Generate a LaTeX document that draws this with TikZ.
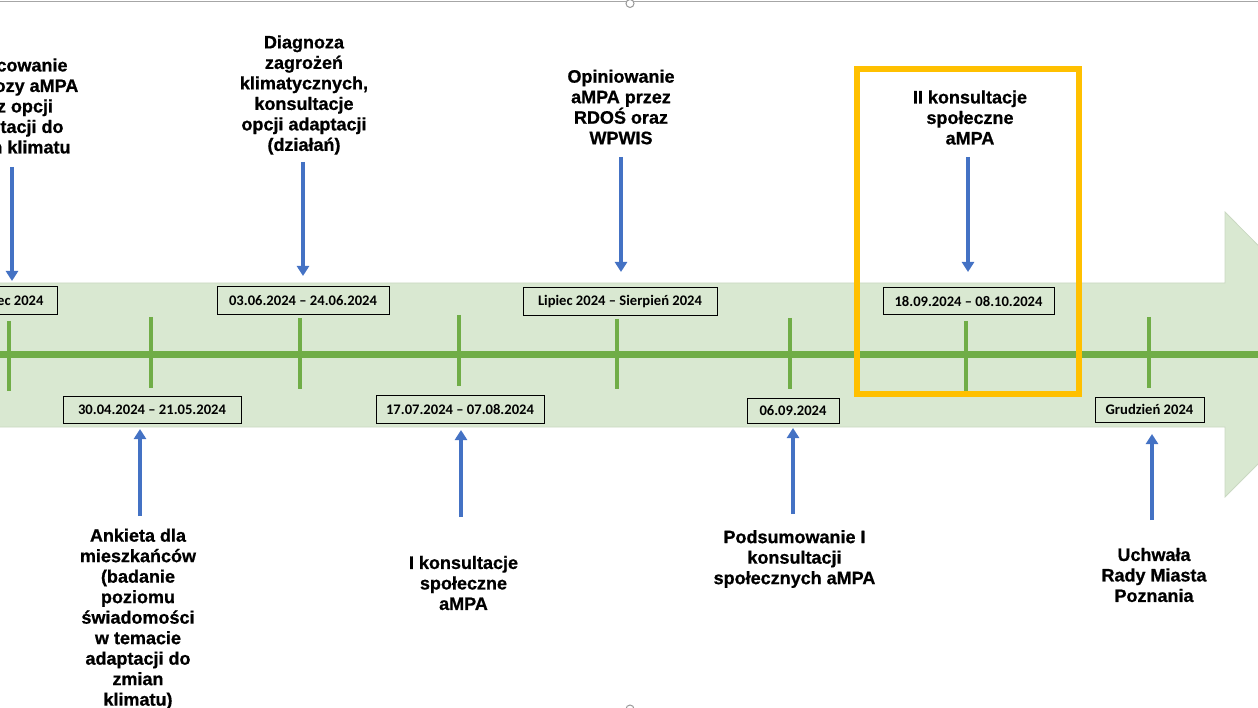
\documentclass[tikz,border=0pt]{standalone}
\usepackage{fontspec}
\setmainfont{Liberation Sans}
\newfontfamily\heavy{Liberation Sans Bold}[FakeBold=0.8]
\newfontfamily\calib{Carlito}
\usetikzlibrary{arrows.meta}
\definecolor{tlgreen}{RGB}{112,173,71}
\definecolor{arrblue}{RGB}{68,114,196}
\definecolor{hlyellow}{RGB}{255,192,0}
\definecolor{bandlight}{RGB}{230,241,224}
\definecolor{banddark}{RGB}{217,232,209}
\definecolor{bandedge}{RGB}{202,216,194}
\begin{document}
\begin{tikzpicture}[x=1pt,y=-1pt,
  datebox/.style={draw=black, line width=1pt, fill=none, inner sep=0pt,
    font=\calib\bfseries\fontsize{14.6}{16}\selectfont},
  lbl/.style={align=center, inner sep=0pt,
    font=\heavy\fontsize{18}{20.5}\selectfont},
  arr/.style={draw=arrblue, line width=3.5pt, -{Triangle[width=12pt,length=10pt]}},
  tickline/.style={draw=tlgreen, line width=4pt},
  axisline/.style={draw=tlgreen, line width=7pt},
  hlbox/.style={draw=hlyellow, line width=6pt}]
\useasboundingbox (0,0) rectangle (1258,708);
\clip (0,0) rectangle (1258,708);

% band arrow
\shade[top color=banddark, middle color=bandlight, bottom color=banddark]
  (-5,283) -- (1225,283) -- (1225,212) -- (1367,355) -- (1225,497) -- (1225,427) -- (-5,427) -- cycle;
\draw[bandedge, line width=0.8pt]
  (-5,283) -- (1225,283) -- (1225,212) -- (1367,355) -- (1225,497) -- (1225,427) -- (-5,427);

% main axis
\draw[axisline] (0,355) -- (1258,355);

% ticks
\draw[tickline] (9,321) -- (9,391);
\draw[tickline] (151,317) -- (151,388);
\draw[tickline] (300,318) -- (300,389);
\draw[tickline] (459,315) -- (459,386);
\draw[tickline] (617,319) -- (617,389);
\draw[tickline] (790,318) -- (790,389);
\draw[tickline] (966,321) -- (966,391);
\draw[tickline] (1149,317) -- (1149,388);

% highlight box
\draw[hlbox] (857,69) rectangle (1079,394);

% date boxes
\node[datebox, minimum width=104pt, minimum height=28pt] (d1) at (5,301) {Marzec 2024};
\node[datebox, minimum width=178pt, minimum height=27pt] (d2) at (152,409.5) {30.04.2024 – 21.05.2024};
\node[datebox, minimum width=172pt, minimum height=28pt] (d3) at (303,301) {03.06.2024 – 24.06.2024};
\node[datebox, minimum width=168pt, minimum height=28pt] (d4) at (460,409.5) {17.07.2024 – 07.08.2024};
\node[datebox, minimum width=194pt, minimum height=28pt] (d5) at (620,302) {Lipiec 2024 – Sierpień 2024};
\node[datebox, minimum width=92pt, minimum height=25pt] (d6) at (793,410.5) {06.09.2024};
\node[datebox, minimum width=171pt, minimum height=27pt] (d7) at (968.5,301.5) {18.09.2024 – 08.10.2024};
\node[datebox, minimum width=109pt, minimum height=25pt] (d8) at (1149.5,409.5) {Grudzień 2024};

% labels
\node[lbl] (l1) at (11,106) {Opracowanie\\prognozy aMPA\\oraz opcji\\adaptacji do\\zmian klimatu};
\node[lbl] (l2) at (304,95) {Diagnoza\\zagrożeń\\klimatycznych,\\konsultacje\\opcji adaptacji\\(działań)};
\node[lbl] (l3) at (621,107) {Opiniowanie\\aMPA przez\\RDOŚ oraz\\WPWIS};
\node[lbl] (l4) at (970,117.5) {II konsultacje\\społeczne\\aMPA};
\node[lbl] (l5) at (138,619) {Ankieta dla\\mieszkańców\\(badanie\\poziomu\\świadomości\\w temacie\\adaptacji do\\zmian\\klimatu)};
\node[lbl] (l6) at (463.5,583) {I konsultacje\\społeczne\\aMPA};
\node[lbl] (l7) at (794.5,559) {Podsumowanie I\\konsultacji\\społecznych aMPA};
\node[lbl] (l8) at (1154,575) {Uchwała\\Rady Miasta\\Poznania};

% arrow end points
\coordinate (a1s) at (12,167);   \coordinate (a1e) at (12,281);
\coordinate (a2s) at (303,162);  \coordinate (a2e) at (303,276);
\coordinate (a3s) at (621,157);  \coordinate (a3e) at (621,272);
\coordinate (a4s) at (968,157);  \coordinate (a4e) at (968,272);
\coordinate (a5s) at (140,516);  \coordinate (a5e) at (140,429);
\coordinate (a6s) at (461,517);  \coordinate (a6e) at (461,430);
\coordinate (a7s) at (793,514);  \coordinate (a7e) at (793,428);
\coordinate (a8s) at (1152,520); \coordinate (a8e) at (1152,434);

\draw[arr] (a1s) -- (a1e);
\draw[arr] (a2s) -- (a2e);
\draw[arr] (a3s) -- (a3e);
\draw[arr] (a4s) -- (a4e);
\draw[arr] (a5s) -- (a5e);
\draw[arr] (a6s) -- (a6e);
\draw[arr] (a7s) -- (a7e);
\draw[arr] (a8s) -- (a8e);

% frame line and handles
\draw[gray!70, line width=1.5pt] (0,1.5) -- (1258,1.5);
\draw[gray!80, fill=white, line width=1pt] (630,3.5) circle (4pt);
\draw[gray!80, fill=white, line width=1pt] (630,709) circle (4pt);
\end{tikzpicture}
\end{document}
